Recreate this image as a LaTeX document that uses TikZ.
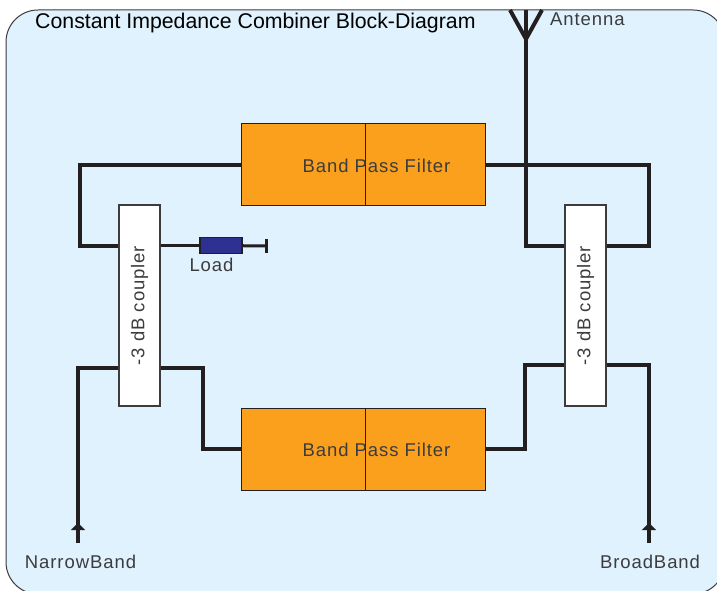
\documentclass[tikz,border=0pt]{standalone}
\usepackage{fontspec}
\setmainfont{Liberation Sans}
\newfontfamily\labelfont[LetterSpace=5]{Liberation Sans}
\definecolor{panelblue}{RGB}{223, 242, 253}
\definecolor{filterorange}{RGB}{250, 160, 28}
\definecolor{loadblue}{RGB}{46, 49, 146}
\definecolor{wirecolor}{RGB}{35, 31, 32}
\definecolor{labelgray}{RGB}{60, 60, 62}
\usetikzlibrary{positioning, arrows.meta}

\begin{document}
\begin{tikzpicture}[x=1pt, y=-1pt,
		filter/.style={draw=wirecolor, line width=1pt, fill=filterorange, minimum height=82pt, minimum width=244pt, inner sep=0pt},
		coupler/.style={draw=labelgray, line width=1.2pt, fill=white, minimum height=41pt, minimum width=201pt, rotate=90, inner sep=0pt, text=labelgray, font=\labelfont\fontsize{18.5}{21}\selectfont},
		load/.style={draw=wirecolor, line width=1.2pt, fill=loadblue, minimum height=16pt, minimum width=42pt, inner sep=0pt},
		label/.style={text=labelgray, inner sep=0pt, font=\labelfont\fontsize{18.5}{21}\selectfont},
		wire/.style={draw=wirecolor, line width=4pt, line join=miter},
		thinwire/.style={draw=wirecolor, line width=3pt}
		]
		
		\clip (0,0) rectangle (717,591);
		\draw[draw=labelgray, line width=1pt, fill=panelblue, rounded corners=32pt] (6,10) rectangle (725,594);
		
		\node[filter] (f1) at (363,164.5) {};
		\node[filter, below=201.5pt of f1] (f2) {};
		\node[coupler] (cl) at (139.5,305.5) {-3 dB coupler};
		\node[coupler] (cr) at (585.5,305.5) {-3 dB coupler};
		\node[load] (l) at (221,245.5) {};
		
		\draw[draw=wirecolor, line width=1pt] (365,123) coordinate (d1) -- (d1|-f1.south);
		\draw[draw=wirecolor, line width=1pt] (365,408) coordinate (d2) -- (d2|-f2.south);
		\node[label] (t1) at (376.5,166) {Band Pass Filter};
		\node[label] (t2) at (376.5,449.5) {Band Pass Filter};
		
		% corners of the wires
		\coordinate (a1) at (80,246);
		\coordinate (a2) at (649,246);
		\coordinate (a3) at (526,246);
		\coordinate (b1) at (78,368);
		\coordinate (b2) at (203,368);
		\coordinate (b3) at (525,365);
		\coordinate (b4) at (649,365);
		\coordinate (nb) at (78,543);
		\coordinate (bb) at (649,543);
		\coordinate (ant) at (526,10);
		\coordinate (stub) at (266.5,246);
		
		\draw[wire] (f1.west) -| (a1) -- (a1-|cl.north);
		\draw[thinwire] (cl.south|-l) -- (l);
		\draw[thinwire] (l) -- (stub);
		\draw[thinwire] (stub|-0,239) -- (stub|-0,253);
		\draw[wire] (f1.east) -| (a2) -- (a2-|cr.south);
		\draw[wire] (ant) -- (a3) -- (a3-|cr.north);
		\draw[wire] (510,10) -- (526,39) -- (542,10);
		
		\draw[wire] (b1-|cl.north) -- (b1) -- (nb);
		\draw[wire] (b1-|cl.south) -| (b2) |- (f2.west);
		\draw[wire] (f2.east) -| (b3) -- (b3-|cr.north);
		\draw[wire] (b4-|cr.south) -- (b4) -- (bb);
		\foreach \i in {nb,bb}{
			\draw[wire, -{Triangle[width=14pt,length=7pt,sep=0pt]}] (\i) -- ++(0,-20);
		}
		
		\node[anchor=west, inner sep=0pt, font=\fontsize{21.3}{25}\selectfont] (title) at (35,23) {Constant Impedance Combiner Block-Diagram};
		\node[label, anchor=west] (antl) at (550,19) {Antenna};
		\node[label] (ll) at (211.5,265) {Load};
		\node[label] (nbl) at (80.5,562) {NarrowBand};
		\node[label] (bbl) at (650,562) {BroadBand};
		
	\end{tikzpicture}
\end{document}
